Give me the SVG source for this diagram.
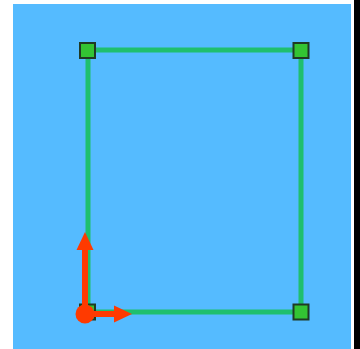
<svg xmlns="http://www.w3.org/2000/svg" width="360" height="349" viewBox="0 0 360 349">
<defs>
<style>
.edge{stroke:#1fbf6e;stroke-width:5;fill:none}
.node{fill:#33c433;stroke:#1f3a24;stroke-width:2}
.axis{stroke:#ff3a00;stroke-width:6;fill:none}
.head{fill:#ff3a00}
</style>
</defs>
<rect x="0" y="0" width="360" height="349" fill="#ffffff"/>
<rect x="13" y="4" width="338" height="345" fill="#55bbff"/>
<rect x="354" y="0" width="6" height="349" fill="#000000"/>
<g id="connectors">
<line class="edge" x1="88" y1="50" x2="301" y2="50"/>
<line class="edge" x1="301" y1="50" x2="301" y2="312"/>
<line class="edge" x1="301" y1="312" x2="88" y2="312"/>
<line class="edge" x1="88" y1="312" x2="88" y2="50"/>
</g>
<g id="node-tl"><rect class="node" x="80" y="43" width="15" height="15"/></g>
<g id="node-tr"><rect class="node" x="293.5" y="43" width="15" height="15"/></g>
<g id="node-br"><rect class="node" x="293.5" y="304.5" width="15" height="15"/></g>
<g id="node-bl"><rect class="node" x="80" y="304.5" width="15" height="15"/></g>
<g id="axes">
<line class="axis" x1="85" y1="314" x2="85" y2="248"/>
<polygon class="head" points="85,232 76.5,250 93.5,250"/>
<line class="axis" x1="85" y1="314" x2="115" y2="314"/>
<polygon class="head" points="132,314 114,305.5 114,322.5"/>
<circle cx="85" cy="314" r="9.5" fill="#ff3a00"/>
</g>
</svg>
